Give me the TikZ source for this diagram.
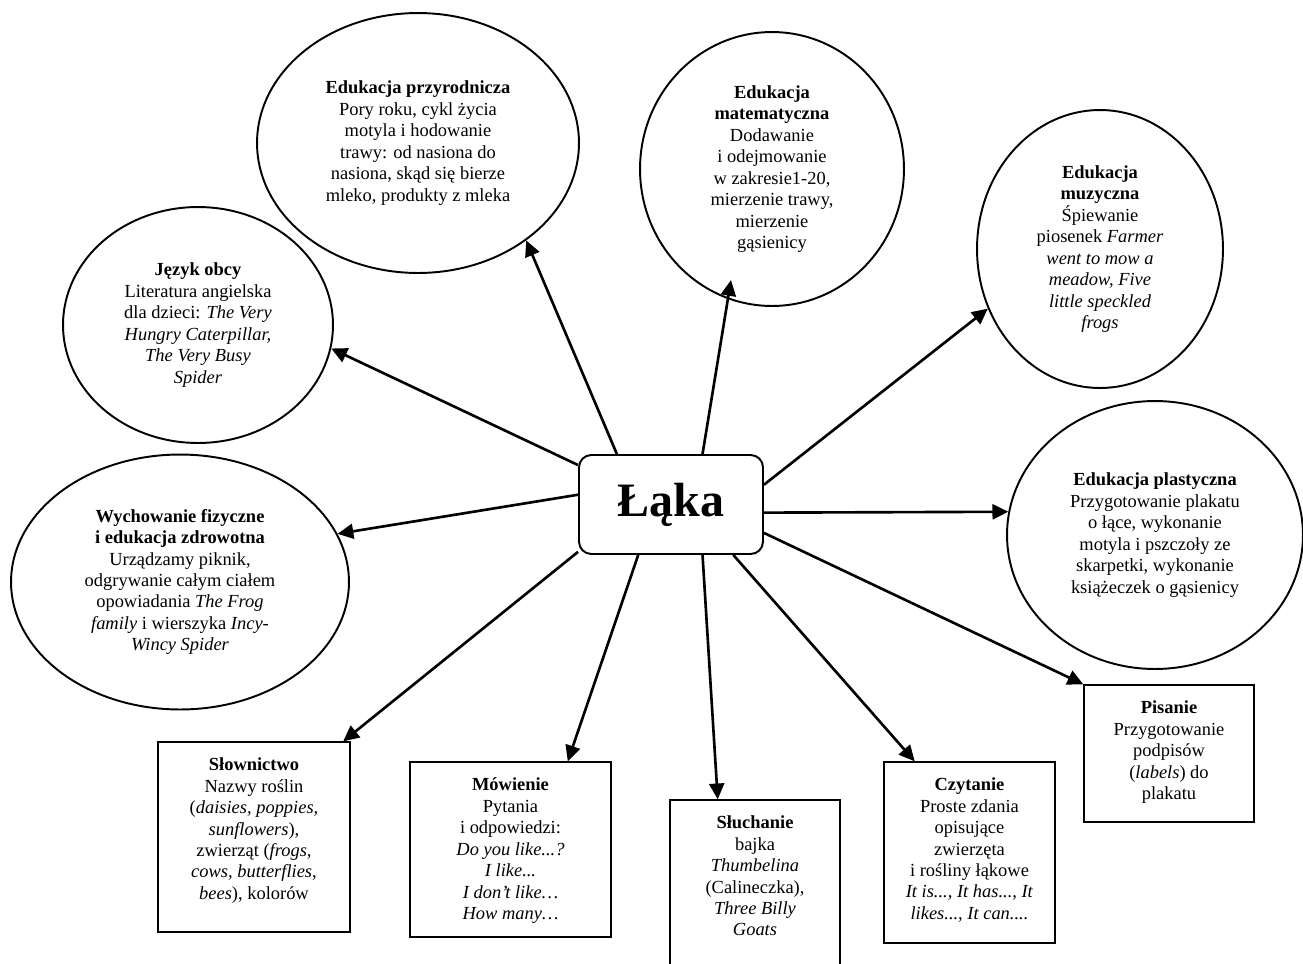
\documentclass[tikz,border=0pt]{standalone}
\usepackage{fontspec}
\setmainfont{Liberation Serif}
\usetikzlibrary{positioning}
\usetikzlibrary{shapes,arrows.meta}

\newcommand{\tresc}[3]{\parbox[c][#2][t]{#1}{\centering\vspace*{0.32cm}#3}}

\begin{document}
\begin{tikzpicture}[x=0.02cm, y=-0.02cm,
		every node/.style = {font=\fontsize{10.5}{12.2}\selectfont},
		owal/.style = {draw, ellipse, line width=1.1pt, inner sep=0pt, align=center},
		ramka/.style = {draw, rectangle, line width=0.8pt, inner sep=0pt},
		temat/.style = {draw, rectangle, rounded corners=7pt, line width=1.1pt,
			minimum width=3.68cm, minimum height=1.98cm,
			font=\fontsize{27.3}{30}\selectfont\bfseries},
		pijl/.style = {-{Triangle[length=9pt,width=8.5pt]}, line width=1.5pt}
	]
		\useasboundingbox (0,0) rectangle (1303,964);
		\node (laka) [temat] at (671,504.5) {Łąka};
		% owale
		\node (przyr) [owal, minimum width=6.44cm, minimum height=5.2cm] at (418,143) {\textbf{Edukacja przyrodnicza}\\Pory roku, cykl życia\\motyla i hodowanie\\trawy: od nasiona do\\nasiona, skąd się bierze\\mleko, produkty z mleka};
		\node (mat) [owal, minimum width=5.28cm, minimum height=5.48cm] at (772,169) {\textbf{Edukacja}\\\textbf{matematyczna}\\Dodawanie\\i odejmowanie\\w zakresie1-20,\\mierzenie trawy,\\mierzenie\\gąsienicy};
		\node (muz) [owal, minimum width=4.92cm, minimum height=5.56cm] at (1100,249) {\textbf{Edukacja}\\\textbf{muzyczna}\\Śpiewanie\\piosenek \textit{Farmer}\\\textit{went to mow a}\\\textit{meadow, Five}\\\textit{little speckled}\\\textit{frogs}};
		\node (jezyk) [owal, minimum width=5.4cm, minimum height=4.72cm] at (198,325) {\textbf{Język obcy}\\Literatura angielska\\dla dzieci: \textit{The Very}\\\textit{Hungry Caterpillar,}\\\textit{The Very Busy}\\\textit{Spider}};
		\node (wych) [owal, minimum width=6.76cm, minimum height=5.1cm] at (180,582) {\textbf{Wychowanie fizyczne}\\\textbf{i edukacja zdrowotna}\\Urządzamy piknik,\\odgrywanie całym ciałem\\opowiadania \textit{The Frog}\\\textit{family} i wierszyka \textit{Incy-}\\\textit{Wincy Spider}};
		\node (plast) [owal, minimum width=5.92cm, minimum height=5.36cm] at (1155,535) {\textbf{Edukacja plastyczna}\\Przygotowanie plakatu\\o łące, wykonanie\\motyla i pszczoły ze\\skarpetki, wykonanie\\książeczek o gąsienicy};
		% ramki
		\node (slow) [ramka] at (254,837) {\tresc{3.84cm}{3.8cm}{\textbf{Słownictwo}\\Nazwy roślin\\(\textit{daisies, poppies,}\\\textit{sunflowers}),\\zwierząt (\textit{frogs,}\\\textit{cows, butterflies},\\\textit{bees}), kolorów}};
		\node (mow) [ramka] at (510.5,849.5) {\tresc{4.02cm}{3.5cm}{\textbf{Mówienie}\\Pytania\\i odpowiedzi:\\\textit{Do you like...?}\\\textit{I like...}\\\textit{I don’t like…}\\\textit{How many…}}};
		\node (sluch) [ramka] at (755,883) {\tresc{3.4cm}{3.32cm}{\textbf{Słuchanie}\\bajka\\\textit{Thumbelina}\\(Calineczka),\\\textit{Three Billy}\\\textit{Goats}}};
		\node (czyt) [ramka] at (969.5,852.5) {\tresc{3.42cm}{3.62cm}{\textbf{Czytanie}\\Proste zdania\\opisujące\\zwierzęta\\i rośliny łąkowe\\\textit{It is..., It has..., It}\\\textit{likes..., It can....}}};
		\node (pis) [ramka] at (1169,753.5) {\tresc{3.4cm}{2.74cm}{\textbf{Pisanie}\\Przygotowanie\\podpisów\\(\textit{labels}) do\\plakatu}};
		\coordinate (matpunkt) at (731,280);
		\path [pijl]
		(laka.137.5) edge (przyr.-42.5)
		(laka.58.8) edge (matpunkt)
		(laka.12.6) edge (muz.208.8)
		(laka.157.3) edge (jezyk.-10.5)
		(laka.174.1) edge (wych.17.9)
		(laka.-5.9) edge (plast.171.9)
		(laka.207.3) edge (slow.47.8)
		(laka.237.9) edge (mow.57.6)
		(laka.-58.8) edge (sluch.114.6)
		(laka.-39.1) edge (czyt.121.5)
		(laka.-17.8) edge (pis.north west);
	\end{tikzpicture}
\end{document}
